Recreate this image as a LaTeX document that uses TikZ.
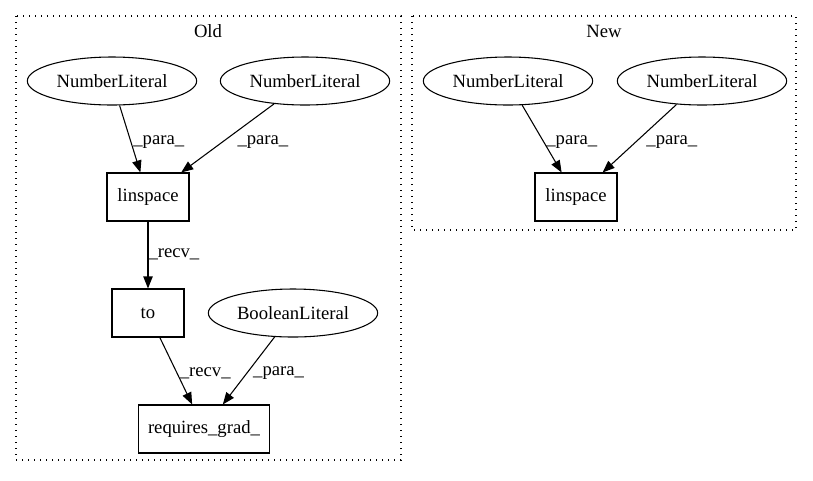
\documentclass[tikz,border=0pt]{standalone}
\usepackage{fontspec}
\setmainfont{Liberation Serif}
\usetikzlibrary{shapes.geometric,arrows.meta}
\tikzset{
  lit/.style={draw, ellipse, minimum width=127pt, minimum height=36pt, inner sep=0pt},
  call/.style={draw, rectangle, minimum height=36pt, inner sep=0pt},
  lbl/.style={anchor=west, inner sep=0pt},
  cluster/.style={draw, dash pattern=on 1pt off 3.5pt},
}
\begin{document}
\begin{tikzpicture}[x=0.75pt, y=-0.75pt, font=\fontsize{14}{16}\selectfont, line width=0.8pt,
  >={Triangle[length=9pt,width=7pt]}]
\useasboundingbox (0,0) rectangle (813,480);
\draw[cluster] (16,16) rectangle (401,460);
\draw[cluster] (412,16) rectangle (796,230);
\node (old) at (208,31) {Old};
\node (new) at (604,31) {New};

\node[lit] (oldnum1) at (112,81) {NumberLiteral};
\node[lit] (oldnum2) at (305,81) {NumberLiteral};
\node[call, minimum width=61.5pt] (oldlin) at (148,197) {linspace};
\node[call, minimum width=54pt] (to) at (148,313) {to};
\node[lit] (bool) at (293,313) {BooleanLiteral};
\node[call, minimum width=98pt] (req) at (204,429) {requires\_grad\_};

\node[lit] (newnum1) at (508,81) {NumberLiteral};
\node[lit] (newnum2) at (702,81) {NumberLiteral};
\node[call, minimum width=61.5pt] (newlin) at (576,197) {linspace};

\path[->]
(oldnum1) edge node[lbl, pos=0.54, xshift=1.5pt] {\_para\_} (oldlin)
(oldnum2) edge node[lbl, pos=0.55, xshift=10.5pt] {\_para\_} (oldlin)
(oldlin) edge node[lbl, pos=0.49] {\_recv\_} (to)
(to) edge node[lbl, pos=0.54, xshift=1.5pt] {\_recv\_} (req)
(bool) edge node[lbl, pos=0.54, xshift=4.5pt] {\_para\_} (req)

(newnum1) edge node[lbl, pos=0.55, xshift=1.5pt] {\_para\_} (newlin)
(newnum2) edge node[lbl, pos=0.55, xshift=7.5pt] {\_para\_} (newlin)
;
\end{tikzpicture}
\end{document}
